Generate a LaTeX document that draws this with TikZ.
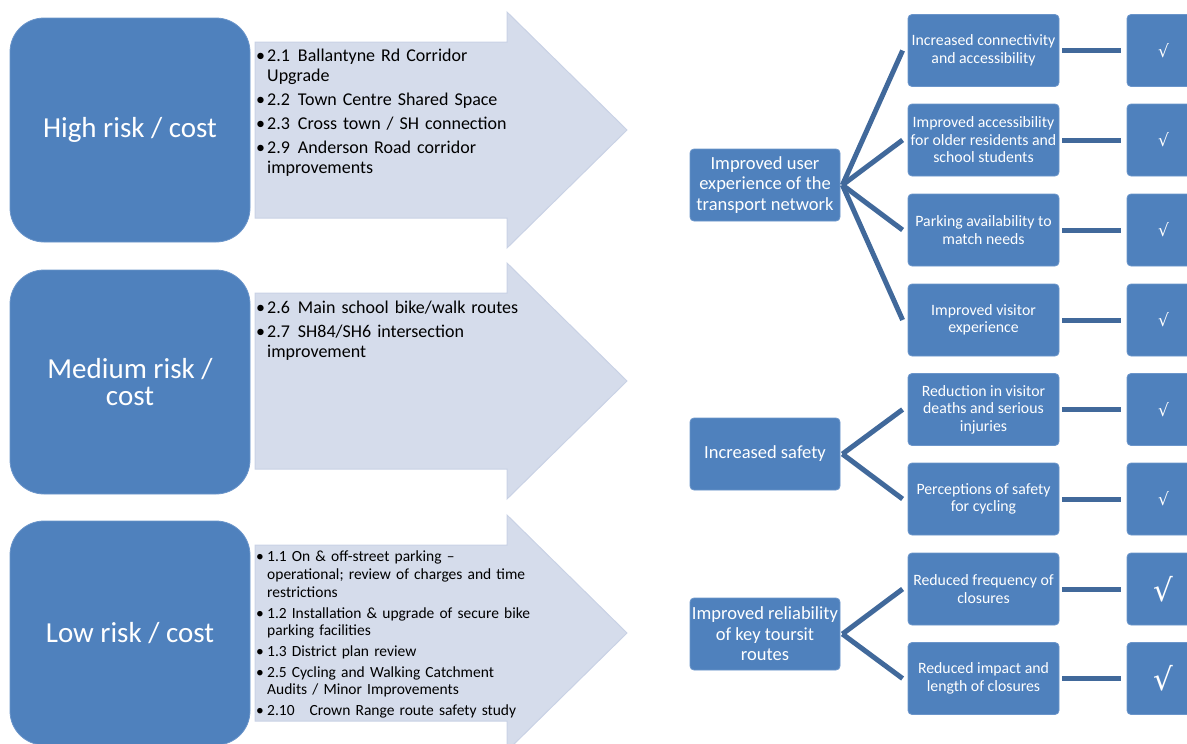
\documentclass[tikz,border=0pt]{standalone}
\usepackage{fontspec}
\setmainfont{Carlito}
\newfontfamily\tickfont{DejaVu Sans}
\definecolor{boxblue}{HTML}{4F81BD}
\definecolor{boxedge}{HTML}{6B95CA}
\definecolor{linkblue}{HTML}{41699B}
\definecolor{arrowfill}{HTML}{D5DCEB}
\definecolor{arrowedge}{HTML}{C9D2E5}
% one bullet item, and a wrapped line that hangs under the item text
\newcommand{\bitem}[1]{\par\noindent\makebox[11pt][l]{•}#1}
\newcommand{\wrapline}{\\\hspace*{11pt}}
\tikzset{
  riskbox/.style={fill=boxblue, draw=boxedge, line width=0.8pt, rounded corners=34pt,
    text=white, font=\fontsize{29}{26.5}\selectfont, align=center,
    minimum width=240pt, minimum height=224pt, inner sep=0pt},
  goalbox/.style={fill=boxblue, draw=boxedge, line width=0.8pt, rounded corners=4pt,
    text=white, font=\fontsize{18.5}{20.5}\selectfont, align=center,
    minimum width=150pt, minimum height=72pt, inner sep=0pt},
  outcomebox/.style={fill=boxblue, draw=boxedge, line width=0.8pt, rounded corners=4pt,
    text=white, font=\fontsize{15.8}{17.5}\selectfont, align=center,
    minimum width=151pt, minimum height=72pt, inner sep=0pt},
  tickbox/.style={fill=boxblue, draw=boxedge, line width=0.8pt, rounded corners=4pt,
    text=white, align=center, minimum width=73pt, minimum height=72pt, inner sep=0pt},
  smalltick/.style={tickbox, font=\tickfont\fontsize{17}{17}\selectfont},
  bigtick/.style={tickbox, font=\tickfont\fontsize{31}{31}\selectfont},
  fan/.style={draw=linkblue, line width=5pt},
  link/.style={draw=linkblue, line width=5pt},
  bigarrow/.style={fill=arrowfill, draw=arrowedge, line width=1pt},
  itemlist/.style={anchor=north west, inner sep=0pt, text width=300pt, align=left},
  biglist/.style={itemlist, font=\fontsize{18}{20}\selectfont\setlength\parskip{4pt}},
  smalllist/.style={itemlist, font=\fontsize{15.5}{17.7}\selectfont\setlength\parskip{3pt}}
}
\begin{document}
\begin{tikzpicture}[x=1pt, y=-1pt]
\useasboundingbox (0,0) rectangle (1187,744);
\clip (0,0) rectangle (1187,744);

% block arrows behind the project lists
\path[bigarrow] (255,42) -- (507,42) -- (507,12) -- (627,130) -- (507,248) -- (507,218) -- (255,218) -- cycle;
\path[bigarrow] (255,293) -- (507,293) -- (507,263) -- (627,381) -- (507,499) -- (507,469) -- (255,469) -- cycle;
\path[bigarrow] (255,545) -- (507,545) -- (507,515) -- (627,633) -- (507,751) -- (507,721) -- (255,721) -- cycle;

% risk levels
\node[riskbox] (high) at (130,130) {High risk / cost};
\node[riskbox] (medium) at (130,382) {Medium risk /\\cost};
\node[riskbox] (low) at (130,633) {Low risk / cost};

% project lists
\node[biglist] (highlist) at (256,37) {%
  \bitem{2.1\hspace{8pt}Ballantyne Rd Corridor\wrapline Upgrade}
  \bitem{2.2\hspace{8pt}Town Centre Shared Space}
  \bitem{2.3\hspace{8pt}Cross town / SH connection}
  \bitem{2.9\hspace{8pt}Anderson Road corridor\wrapline improvements}};
\node[biglist] (mediumlist) at (256,289) {%
  \bitem{2.6\hspace{8pt}Main school bike/walk routes}
  \bitem{2.7\hspace{8pt}SH84/SH6 intersection\wrapline improvement}};
\node[smalllist] (lowlist) at (256,541) {%
  \bitem{1.1\hspace{5pt}On \& off-street parking --\wrapline operational; review of charges and time\wrapline restrictions}
  \bitem{1.2\hspace{5pt}Installation \& upgrade of secure bike\wrapline parking facilities}
  \bitem{1.3\hspace{5pt}District plan review}
  \bitem{2.5\hspace{5pt}Cycling and Walking Catchment\wrapline Audits / Minor Improvements}
  \bitem{2.10\hspace{15pt}Crown Range route safety study}};

% objectives
\node[goalbox] (ux) at (765,185) {Improved user\\experience of the\\transport network};
\node[goalbox] (safety) at (765,454) {Increased safety};
\node[goalbox] (reliab) at (765,634) {Improved reliability\\of key toursit\\routes};

% outcomes
\node[outcomebox] (o1) at (983.5,50.5) {Increased connectivity\\and accessibility};
\node[outcomebox] (o2) at (983.5,140) {Improved accessibility\\for older residents and\\school students};
\node[outcomebox] (o3) at (983.5,230) {Parking availability to\\match needs};
\node[outcomebox] (o4) at (983.5,320) {Improved visitor\\experience};
\node[outcomebox] (o5) at (983.5,409.5) {Reduction in visitor\\deaths and serious\\injuries};
\node[outcomebox] (o6) at (983.5,499) {Perceptions of safety\\for cycling};
\node[outcomebox] (o7) at (983.5,589) {Reduced frequency of\\closures};
\node[outcomebox] (o8) at (983.5,678.5) {Reduced impact and\\length of closures};

% ticks
\node[smalltick] (t1) at (1163.5,50.5) {√};
\node[smalltick] (t2) at (1163.5,140) {√};
\node[smalltick] (t3) at (1163.5,230) {√};
\node[smalltick] (t4) at (1163.5,320) {√};
\node[smalltick] (t5) at (1163.5,409.5) {√};
\node[smalltick] (t6) at (1163.5,499) {√};
\node[bigtick] (t7) at (1163.5,589) {√};
\node[bigtick] (t8) at (1163.5,678.5) {√};

% objective to outcome fans
\foreach \o in {o1,o2,o3,o4}
  \draw[fan] ([xshift=2pt]ux.east) -- ([xshift=-5pt]\o.west);
\foreach \o in {o5,o6}
  \draw[fan] ([xshift=2pt]safety.east) -- ([xshift=-5pt]\o.west);
\foreach \o in {o7,o8}
  \draw[fan] ([xshift=2pt]reliab.east) -- ([xshift=-5pt]\o.west);

% outcome to tick links
\foreach \i in {1,...,8}
  \draw[link] ([xshift=3pt]o\i.east) -- ([xshift=-6pt]t\i.west);
\end{tikzpicture}
\end{document}
